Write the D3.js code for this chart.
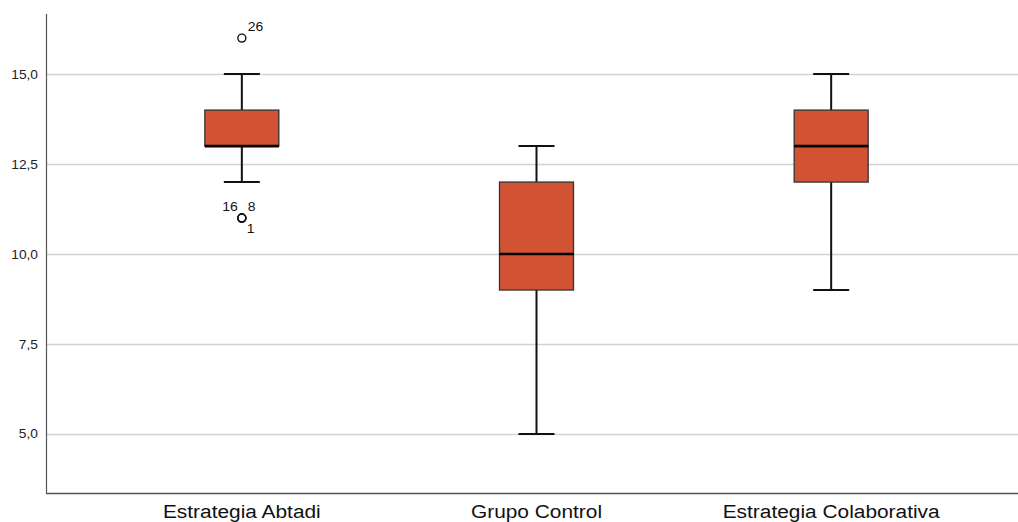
<!DOCTYPE html>
<html>
<head>
<meta charset="utf-8">
<script src="https://cdn.jsdelivr.net/npm/d3@7"></script>
<style>
  html, body { margin: 0; padding: 0; background: #fff; }
  svg { display: block; }
  text { font-family: "Liberation Sans", Arial, sans-serif; }
</style>
</head>
<body>
<svg id="chart" width="1018" height="522"></svg>
<script>
// Group names and five-number summaries for each box
const categories = ["Estrategia Abtadi", "Grupo Control", "Estrategia Colaborativa"];
const whiskerLow = [12, 5, 9];
const q1 = [13, 9, 12];
const median = [13, 10, 13];
const q3 = [14, 12, 14];
const whiskerHigh = [15, 13, 15];

// Outlying cases: group index, value, case labels with their offset placement
const outlierGroup = [0, 0, 0, 0];
const outlierValue = [16, 11, 11, 11];
const outlierCase = ["26", "16", "8", "1"];
const outlierLabelPos = ["ne", "nw", "ne", "se"];

const yTicks = [5, 7.5, 10, 12.5, 15];

(function () {
  const plotLeft = 46, plotRight = 1018, plotTop = 14, plotBottom = 493;

  const svg = d3.select("#chart");

  const y = d3.scaleLinear().domain([3.36, 16.67]).range([plotBottom, plotTop]);
  const x = d3.scaleBand().domain(categories).range([94.5, 978.5]);

  const fmt = v => d3.format(".1f")(v).replace(".", ",");

  // horizontal reference lines
  svg.append("g").selectAll("line").data(yTicks).join("line")
    .attr("x1", plotLeft).attr("x2", plotRight)
    .attr("y1", d => Math.round(y(d)) + 0.5).attr("y2", d => Math.round(y(d)) + 0.5)
    .attr("stroke", "#d2d2d2").attr("stroke-width", 1.6);

  // y axis (labels slightly widened)
  const yAxis = d3.axisLeft(y).tickValues(yTicks).tickFormat(fmt).tickSize(0).tickPadding(7.3);
  const gy = svg.append("g").attr("transform", `translate(${plotLeft},0)`).call(yAxis);
  gy.select(".domain").remove();
  gy.selectAll("text").attr("font-size", 12.5).attr("fill", "#222")
    .attr("transform", "scale(1.1,1)");
  svg.append("line").attr("x1", plotLeft + 0.5).attr("x2", plotLeft + 0.5)
    .attr("y1", plotTop).attr("y2", plotBottom)
    .attr("stroke", "#555").attr("stroke-width", 1.2);

  // x axis (labels widened)
  const xAxis = d3.axisBottom(x).tickSize(0).tickPadding(12);
  const gx = svg.append("g").attr("transform", `translate(0,${plotBottom})`).call(xAxis);
  gx.select(".domain").remove();
  gx.selectAll("text").attr("font-size", 18).attr("fill", "#111")
    .attr("transform", "scale(1.16,1)");
  svg.append("line").attr("x1", plotLeft).attr("x2", plotRight)
    .attr("y1", plotBottom + 0.5).attr("y2", plotBottom + 0.5)
    .attr("stroke", "#555").attr("stroke-width", 1.4);

  const boxW = 74, capW = 36;
  const g = svg.append("g");

  categories.forEach((c, i) => {
    const cx = x(c) + x.bandwidth() / 2;
    // whisker stems
    g.append("line").attr("x1", cx).attr("x2", cx).attr("y1", y(whiskerHigh[i])).attr("y2", y(q3[i]))
      .attr("stroke", "#111").attr("stroke-width", 2);
    g.append("line").attr("x1", cx).attr("x2", cx).attr("y1", y(q1[i])).attr("y2", y(whiskerLow[i]))
      .attr("stroke", "#111").attr("stroke-width", 2);
    // caps
    [whiskerHigh[i], whiskerLow[i]].forEach(v => {
      g.append("line").attr("x1", cx - capW / 2).attr("x2", cx + capW / 2).attr("y1", y(v)).attr("y2", y(v))
        .attr("stroke", "#111").attr("stroke-width", 2);
    });
    // box
    g.append("rect").attr("x", cx - boxW / 2).attr("y", y(q3[i]))
      .attr("width", boxW).attr("height", y(q1[i]) - y(q3[i]))
      .attr("fill", "#d15334").attr("stroke", "#333").attr("stroke-width", 1.3);
    // median
    g.append("line").attr("x1", cx - boxW / 2).attr("x2", cx + boxW / 2)
      .attr("y1", y(median[i])).attr("y2", y(median[i]))
      .attr("stroke", "#000").attr("stroke-width", 2.6);
  });

  // outliers with case numbers
  const offs = { ne: [6, -7, "start"], nw: [-4, -7, "end"], se: [5, 15, "start"] };
  outlierValue.forEach((v, k) => {
    const cx = x(categories[outlierGroup[k]]) + x.bandwidth() / 2;
    const cy = y(v);
    g.append("circle").attr("cx", cx).attr("cy", cy).attr("r", 4)
      .attr("fill", "none").attr("stroke", "#111").attr("stroke-width", 1.4);
    const o = offs[outlierLabelPos[k]];
    g.append("text")
      .attr("transform", `translate(${cx + o[0]},${cy + o[1]}) scale(1.12,1)`)
      .attr("text-anchor", o[2])
      .attr("font-size", 12.5).attr("fill", "#111").text(outlierCase[k]);
  });
})();
</script>
</body>
</html>
